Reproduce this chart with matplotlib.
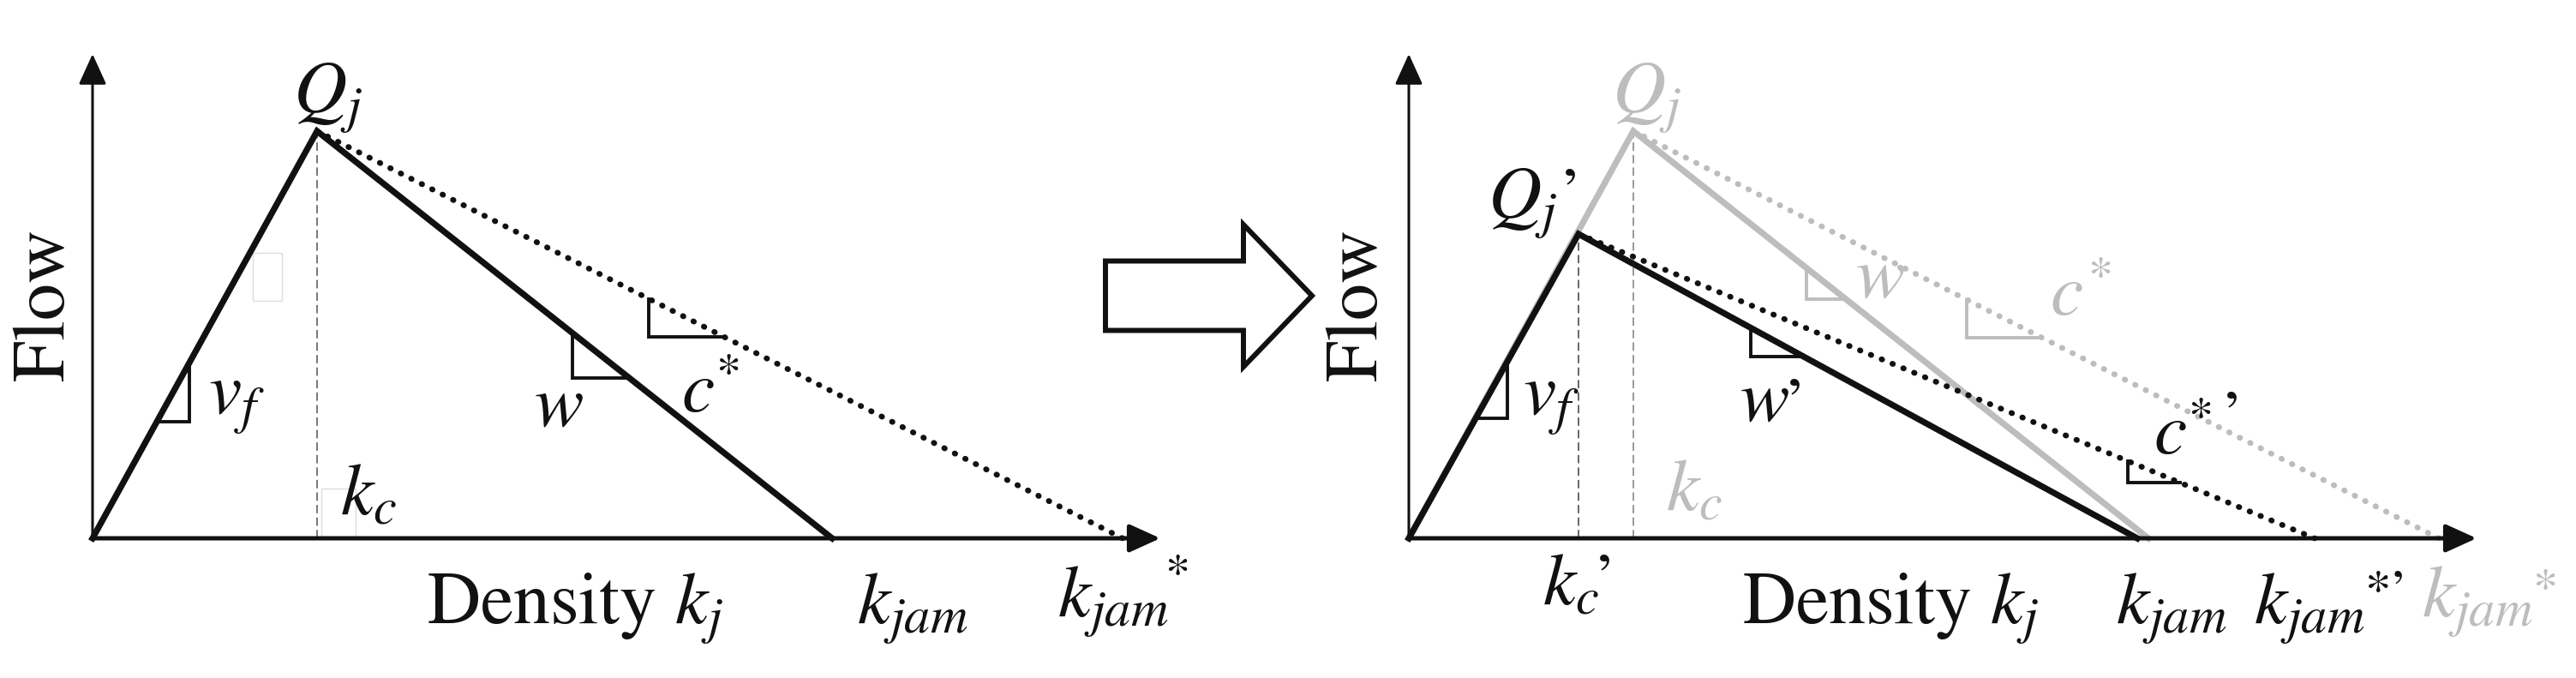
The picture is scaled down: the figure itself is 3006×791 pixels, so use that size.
import matplotlib.pyplot as plt
from matplotlib.patches import FancyArrowPatch, FancyArrow, Rectangle

plt.rcParams['font.family'] = ['STIXGeneral', 'Liberation Serif']
plt.rcParams['mathtext.fontset'] = 'stix'

# -----------------------------
# Triangular fundamental diagram (schematic units)
# -----------------------------
# before (left panel, grey in right panel)
kc = 26.2
Qj = 47.5
kjam = 86.3
kjam_star = 120.2
# after (right panel)
kc_new = 19.8
Qj_new = 35.5
kjam_new = 85.0
kjam_star_new = 105.7

# axis extent
x_end = 124.6
y_end = 56.5

# slope markers: (branch, x from, x to)
marks_left = [("vf", 7.5, 11.3), ("w", 56.0, 62.6), ("c", 64.9, 73.6)]
marks_right_old = [("w", 46.4, 51.0), ("c", 65.1, 73.8)]
marks_right_new = [("vf", 7.8, 11.5), ("w", 39.9, 46.1), ("c", 83.9, 90.0)]

BLACK = "#111111"
GREY = "#bdbdbd"
FS = 62


def branches(kc, Qj, kjam, kjam_s):
    return {"vf": ((0, 0), (kc, Qj)),
            "w": ((kc, Qj), (kjam, 0)),
            "c": ((kc, Qj), (kjam_s, 0))}


def y_on(seg, x):
    (x0, y0), (x1, y1) = seg
    return y0 + (y1 - y0) * (x - x0) / (x1 - x0)


def slope_mark(ax, seg, xa, xb, color):
    ya, yb = y_on(seg, xa), y_on(seg, xb)
    if ya > yb:
        xs, ys = [xa, xa, xb], [ya, yb, yb]
    else:
        xs, ys = [xa, xb, xb], [ya, ya, yb]
    ax.plot(xs, ys, color=color, lw=2.8, solid_joinstyle="miter", zorder=4)


def diagram(ax, kc, Qj, kjam, kjam_s, color, dash_color):
    ax.plot([0, kc, kjam], [0, Qj, 0], color=color, lw=5.2, zorder=3,
            solid_joinstyle="miter")
    ax.plot([kc, kjam_s], [Qj, 0], color=color, lw=4.8, zorder=3,
            linestyle=(0, (0.1, 1.95)), dash_capstyle="round")
    ax.plot([kc, kc], [0, Qj], color=dash_color, lw=1.4, zorder=2,
            linestyle=(0, (5, 2.5)))


def axes_arrows(ax):
    for (xb, yb), lw in [((x_end, 0), 3.6), ((0, y_end), 2.2)]:
        ax.add_patch(FancyArrowPatch((0, 0), (xb, yb),
                                     arrowstyle="-|>,head_length=0.55,head_width=0.25",
                                     mutation_scale=40, lw=lw, color=BLACK,
                                     shrinkA=0, shrinkB=0, zorder=5))


def label(ax, x, y, s, color=BLACK, size=FS):
    ax.text(x, y, s, color=color, fontsize=size, ha="left", va="baseline")


def mark(ax, x, y, s, color=BLACK, size=42):
    # small glyph (* or ’) centred on (x, y)
    ax.annotate(s, (x, y), xytext=(0, -0.5 * size), textcoords="offset points",
                color=color, fontsize=size, ha="center", va="baseline")


fig = plt.figure(figsize=(30.06, 7.91), dpi=100)
ax_l = fig.add_axes([0, 0, 1, 1])
ax_r = fig.add_axes([0, 0, 1, 1])
ax_l.set_xlim(-10.8, 289.8)
ax_r.set_xlim(-164.4, 136.2)
for ax in (ax_l, ax_r):
    ax.set_ylim(-16.3, 62.8)
    ax.axis("off")
    ax.patch.set_alpha(0)

# -----------------------------
# Left panel
# -----------------------------
diagram(ax_l, kc, Qj, kjam, kjam_star, BLACK, "#777777")
axes_arrows(ax_l)
seg = branches(kc, Qj, kjam, kjam_star)
for b, xa, xb in marks_left:
    slope_mark(ax_l, seg[b], xa, xb, BLACK)
# faint boxes left in the original image
ax_l.add_patch(Rectangle((18.7, 27.7), 3.4, 5.6, fill=False, ec="#dddddd", lw=1))
ax_l.add_patch(Rectangle((26.7, 0), 4.0, 5.8, fill=False, ec="#dddddd", lw=1))

ax_l.text(-5.4, 27.3, "Flow", rotation=90, ha="center", va="center",
          fontsize=FS, color=BLACK)
label(ax_l, 23.4, 49.6, "$Q_j$")
label(ax_l, 13.5, 14.5, "$v_f$")
label(ax_l, 28.9, 2.8, "$k_c$")
label(ax_l, 51.5, 13.1, "$w$")
label(ax_l, 68.7, 14.8, "$c$")
mark(ax_l, 74.2, 20.4, "*")
label(ax_l, 39.0, -10.0, "Density $k_j$")
label(ax_l, 89.2, -10.0, "$k_{jam}$")
label(ax_l, 112.6, -9.2, "$k_{jam}$")
mark(ax_l, 126.6, -3.0, "*")

# transition arrow
ax_l.add_patch(FancyArrow(118.2, 28.3, 24.1, 0, width=8.1, head_width=16.6,
                          head_length=8.0, length_includes_head=True,
                          fc="white", ec=BLACK, lw=4.3, joinstyle="miter"))

# -----------------------------
# Right panel
# -----------------------------
diagram(ax_r, kc, Qj, kjam, kjam_star, GREY, "#999999")
diagram(ax_r, kc_new, Qj_new, kjam_new, kjam_star_new, BLACK, "#666666")
axes_arrows(ax_r)
seg_old = branches(kc, Qj, kjam, kjam_star)
seg_new = branches(kc_new, Qj_new, kjam_new, kjam_star_new)
for b, xa, xb in marks_right_old:
    slope_mark(ax_r, seg_old[b], xa, xb, GREY)
for b, xa, xb in marks_right_new:
    slope_mark(ax_r, seg_new[b], xa, xb, BLACK)

ax_r.text(-5.8, 27.3, "Flow", rotation=90, ha="center", va="center",
          fontsize=FS, color=BLACK)
# grey (before)
label(ax_r, 23.7, 49.6, "$Q_j$", GREY)
label(ax_r, 52.1, 28.1, "$w$", GREY)
label(ax_r, 74.8, 26.1, "$c$", GREY)
mark(ax_r, 80.7, 31.7, "*", GREY)
label(ax_r, 30.0, 3.3, "$k_c$", GREY)
label(ax_r, 118.2, -9.2, "$k_{jam}$", GREY)
mark(ax_r, 132.6, -4.7, "*", GREY)
# black (after)
label(ax_r, 9.2, 37.3, "$Q_j$")
mark(ax_r, 19.0, 41.8, "\u2019", size=56)
label(ax_r, 13.3, 14.4, "$v_f$")
label(ax_r, 38.6, 13.7, "$w$")
mark(ax_r, 45.2, 17.3, "\u2019", size=56)
label(ax_r, 86.9, 9.9, "$c$")
mark(ax_r, 92.4, 15.3, "*")
mark(ax_r, 96.2, 15.8, "\u2019", size=56)
label(ax_r, 15.6, -7.7, "$k_c$")
mark(ax_r, 23.0, -3.2, "\u2019", size=56)
label(ax_r, 38.9, -10.0, "Density $k_j$")
label(ax_r, 82.5, -10.0, "$k_{jam}$")
label(ax_r, 98.6, -10.0, "$k_{jam}$")
mark(ax_r, 114.1, -4.9, "*\u2019", size=44)

fig.savefig("out.png", dpi=100, facecolor="white")
